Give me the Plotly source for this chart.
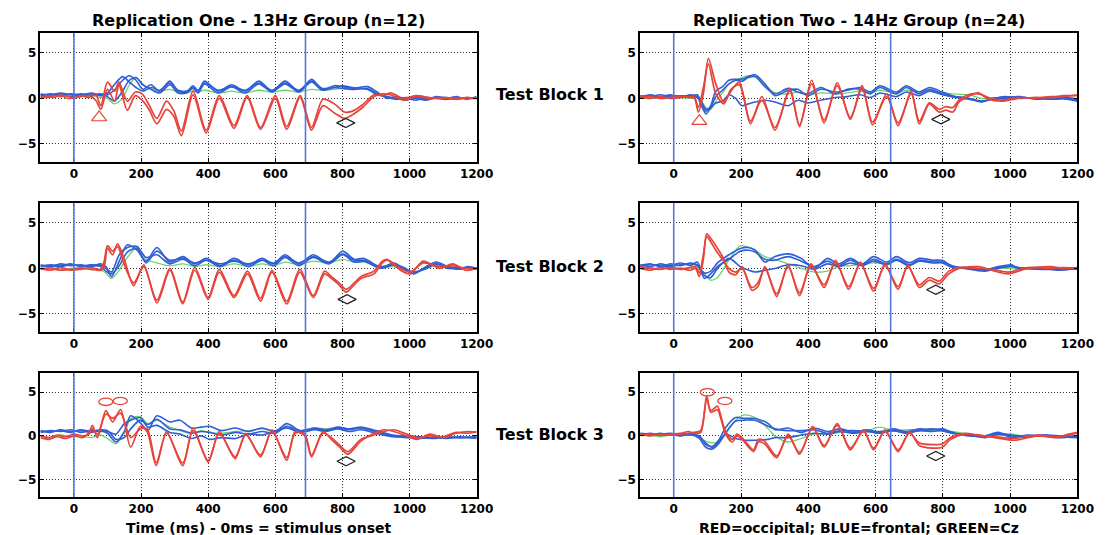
import plotly.graph_objects as go

# ---------------- axes / labels ----------------
X_TICKS = [0, 200, 400, 600, 800, 1000, 1200]
Y_TICKS = [-5, 0, 5]
X_RANGE = [-100, 1200]
Y_RANGE = [-7, 7.2]
STIM_ON = 0
STIM_OFF_L = 690
STIM_OFF_R = 645

COL_TITLES = ["Replication One - 13Hz Group (n=12)", "Replication Two - 14Hz Group (n=24)"]
ROW_LABELS = ["Test Block 1", "Test Block 2", "Test Block 3"]
XLABEL_L = "Time (ms) - 0ms = stimulus onset"
XLABEL_R = "RED=occipital; BLUE=frontal; GREEN=Cz"

# ---------------- Block 1, Replication One ----------------
T_1L_R = [-100,-80,-60,-40,-20,0,20,45,65,80,100,121,134,159,183,203,225,247,276,298,320,355,394,433,477,516,556,600,634,674,708,742,776,806,830,860,894,920,943,982,1020,1060,1100,1140,1170,1200]
R_1L_a = [0.0,0.3,0.1,0.4,0.0, 0.1,0.2,0.3,-0.2,-1.2, 1.0,-0.3,1.5,-1.3,0.3, -0.2,-1.3,-2.8,-1.2,-2.0, -4.1,0.4,-3.8,0.0,-3.3, 0.1,-3.4,0.0,-3.4,0.1, -3.5,-0.8,-1.6,-2.2,-1.8, -1.0,0.2,0.5,0.4,-0.2, 0.2,0.0,0.1,-0.1,0.1, 0.0]
R_1L_b = [0.2,0.1,0.3,0.2,0.3, 0.0,0.3,0.1,0.4,-0.8, 1.8,0.8,1.8,-0.3,0.7, 0.5,-0.8,-2.2,-0.3,-1.4, -3.6,0.8,-3.5,0.3,-3.0, 0.3,-3.2,0.3,-3.1,0.3, -3.2,-0.1,-0.6,-1.5,-1.4, -0.7,0.4,0.3,0.6,0.0, 0.3,0.1,0.0,0.1,0.0, 0.1]
T_1L_B = [-100,-70,-40,-10,20,50,80,100,120,145,165,185,205,230,255,286,310,335,355,370,389,430,470,510,551,590,629,670,708,740,776,800,830,874,900,934,960,990,1020,1050,1080,1110,1140,1170,1200]
B_1L_a = [0.3,0.5,0.3,0.5,0.4,0.5,0.3,0.4,0.9,2.0,2.5,2.0,1.0,1.5,0.8,1.9,0.8,0.7,1.4,0.8,1.9,0.8,1.5,0.8,1.9,0.8,1.9,0.8,2.1,1.0,1.4,1.3,1.1,1.3,0.8,0.0,0.2,-0.2,0.1,-0.1,0.2,0.0,0.2,-0.1,0.2]
B_1L_b = [0.5,0.3,0.5,0.2,0.5,0.3,0.5,0.2,-0.3,0.8,2.0,2.3,1.5,1.0,0.6,1.5,0.6,0.6,1.1,0.6,1.6,0.6,1.3,0.6,1.6,0.7,1.6,0.7,1.8,0.9,1.2,1.1,1.0,1.1,0.6,0.1,-0.1,0.0,-0.2,0.1,0.0,-0.1,0.1,0.0,0.0]
B_1L_c = [0.4,0.4,0.6,0.4,0.3,0.6,0.4,0.6,1.5,2.4,1.8,1.2,0.8,1.2,0.9,1.7,0.9,0.8,1.2,0.9,1.7,0.9,1.3,0.9,1.7,0.9,1.7,0.9,1.9,1.1,1.2,1.4,1.2,1.0,0.5,0.2,0.0,0.1,0.0,-0.2,0.1,0.1,-0.1,0.1,0.0]
G_1L = [0.2,0.2,0.3,0.2,0.2,0.3,0.1,0.0,-0.6,0.0,1.5,2.3,1.6,1.0,0.8,1.0,0.7,0.6,0.8,0.7,0.9,0.6,0.8,0.6,0.9,0.7,0.9,0.7,1.0,0.9,1.0,1.1,1.0,1.0,0.6,0.1,0.0,-0.1,0.0,-0.1,0.0,0.1,0.0,0.0,0.0]

# ---------------- Block 2, Replication One ----------------
T_2L_R = [-100,-70,-40,-10,20,50,80,90,100,115,130,150,178,208,247,286,324,360,400,433,477,517,556,590,634,673,713,747,767,790,811,835,855,894,919,933,973,1002,1041,1090,1129,1169,1200]
R_2L_a = [-0.1,0.0,-0.2,-0.1,0.0, -0.1,-0.2,0.2,2.2,1.5, 2.7,1.0,-1.9,0.4,-3.8, -0.2,-3.9,-0.2,-3.4,-0.4, -3.2,-0.6,-3.6,-0.4,-3.9, -0.4,-3.2,-0.6,-1.1,-1.8, -2.6,-1.8,-1.1,-0.6,0.6, 0.9,-0.2,-0.6,0.8,0.0, 0.5,-0.2,0.0]
R_2L_b = [0.0,-0.2,0.1,-0.2,-0.1, 0.1,-0.1,0.8,2.5,1.9, 2.4,0.4,-1.6,0.2,-3.5, 0.0,-3.7,0.1,-3.2,-0.1, -3.0,-0.3,-3.3,-0.2,-3.6, -0.1,-3.0,-0.3,-0.9,-1.6, -2.3,-1.6,-0.9,-0.3,0.8, 1.0,0.0,-0.4,0.6,0.2, 0.3,0.0,-0.1]
T_2L_B = [-100,-70,-40,-10,20,50,80,95,112,135,159,188,215,247,285,325,360,394,435,477,520,561,595,629,670,713,760,801,835,865,914,953,983,1012,1045,1080,1115,1149,1175,1200]
B_2L_a = [0.4,0.2,0.5,0.3,0.4, 0.2,0.5,0.2,-0.9,0.8, 2.6,2.0,0.8,2.3,0.7, 1.3,0.5,1.1,0.3,1.1, 0.4,1.1,0.5,1.5,0.5, 1.5,0.6,1.9,1.0,1.1, 0.1,0.6,0.0,-0.6,0.1, 0.7,0.2,0.0,0.2,0.0]
B_2L_b = [0.2,0.4,0.3,0.5,0.2, 0.4,0.3,0.0,-0.4,1.5, 2.3,2.4,1.2,1.5,0.5, 1.0,0.3,0.9,0.2,0.9, 0.2,0.9,0.3,1.2,0.3, 1.2,0.5,1.5,0.7,0.8, 0.0,0.4,0.1,-0.5,0.0, 0.5,0.0,0.1,0.0,0.1]
B_2L_c = [0.3,0.3,0.2,0.4,0.3, 0.3,0.2,-0.3,-0.6,0.3, 1.8,2.2,0.6,1.9,0.9, 1.1,0.6,0.9,0.5,0.8, 0.5,0.9,0.6,1.3,0.6, 1.3,0.7,1.6,0.9,0.9, 0.2,0.4,-0.1,-0.4,-0.1, 0.5,0.1,-0.1,0.1,0.0]
G_2L = [0.0,0.1,-0.1,0.0,0.1, 0.0,-0.2,-0.5,-1.1,-0.2, 1.2,2.3,1.0,0.6,0.3, 0.5,0.2,0.4,0.2,0.5, 0.2,0.5,0.3,0.7,0.4, 0.8,0.6,1.0,0.7,0.7, 0.1,0.2,-0.1,-0.5,-0.1, 0.3,0.0,0.0,0.1,0.0]

# ---------------- Block 3, Replication One ----------------
T_3L_R = [-100,-75,-50,-25,0,25,45,55,70,95,115,139,169,198,218,245,276,324,355,400,433,480,512,556,590,634,659,688,708,742,767,790,816,855,894,924,953,992,1022,1061,1100,1139,1175,1200]
R_3L_a = [-0.2,-0.4,-0.1,-0.3,0.0, -0.2,0.4,1.2,-0.2,2.9, 1.6,3.0,-1.3,1.1,0.5, -3.4,0.5,-3.4,0.9,-3.0, 0.5,-2.6,0.3,-2.4,0.7, -2.8,0.5,0.0,-2.4,0.5, -0.4,-1.2,-2.1,-0.6,0.3, 0.7,0.5,0.0,-0.4,0.2, -0.2,0.3,0.5,0.4]
R_3L_b = [0.0,-0.2,0.1,-0.1,0.2, 0.0,0.2,0.8,0.2,2.5, 2.0,2.6,-0.2,0.8,0.8, -3.1,0.3,-3.1,0.6,-2.8, 0.3,-2.4,0.1,-2.2,0.5, -2.5,0.3,0.2,-2.2,0.3, -0.2,-1.0,-1.8,-0.4,0.1, 0.5,0.7,0.2,-0.2,0.0, -0.1,0.4,0.3,0.5]
T_3L_B = [-100,-70,-40,-10,20,50,80,100,125,150,169,198,220,247,286,316,350,380,404,440,482,520,561,600,634,675,718,750,786,820,855,900,950,990,1030,1070,1110,1150,1200]
B_3L_a = [0.6,0.4,0.7,0.5,0.6, 0.4,0.6,0.3,-0.7,0.5, 2.3,1.5,0.6,2.3,1.6, 1.8,0.9,1.0,1.1,0.6, 0.9,0.5,0.9,0.5,1.4, 0.6,0.9,0.7,0.9,0.7, 0.9,0.5,0.0,-0.2,-0.2, -0.3,-0.1,-0.2,-0.2]
B_3L_b = [0.4,0.6,0.5,0.7,0.4, 0.6,0.5,0.5,0.2,1.4, 1.8,2.1,1.0,1.2,0.4, 0.2,-0.3,0.0,-0.4,-0.2, -0.3,0.2,0.1,0.6,0.9, 0.4,0.7,0.5,0.8,0.5, 0.7,0.3,-0.1,-0.1,-0.3, -0.2,-0.3,-0.1,-0.3]
B_3L_c = [0.5,0.5,0.6,0.4,0.7, 0.5,0.7,0.6,-0.4,-0.2, 0.8,1.8,1.3,1.9,0.8, 0.7,0.3,0.5,0.4,0.1, 0.4,0.2,0.5,0.3,1.1, 0.5,0.8,0.6,1.0,0.8, 1.0,0.6,0.1,0.0,-0.1, -0.2,-0.2,-0.2,-0.1]
G_3L = [0.0,-0.2,0.1,-0.1,0.0, -0.2,0.1,-0.3,-0.9,0.3, 2.0,2.2,1.4,1.8,1.0, 0.6,0.3,0.6,0.4,0.3, 0.5,0.6,0.8,0.5,0.9, 0.6,0.9,0.8,1.0,0.8, 0.9,0.4,0.0,-0.1,-0.1, -0.2,-0.1,-0.2,-0.1]

# ---------------- Block 1, Replication Two ----------------
T_1R_R = [-100,-70,-40,-10,20,50,62,73,88,103,125,149,170,195,228,262,301,345,374,410,447,486,525,560,591,633,667,706,730,760,789,809,830,848,875,906,936,975,1023,1070,1121,1160,1200]
R_1R_a = [0.1,0.2,0.0,0.1,0.2, 0.1,0.0,-1.5,0.5,4.4, 1.6,-0.4,0.8,1.8,-2.8, 0.2,-3.5,1.1,-3.1,2.0, -2.7,1.7,-2.3,1.4,-2.9, 0.5,-3.0,0.8,-2.8,-0.6, -1.5,-1.3,-1.5,-0.4,0.2, 0.6,-0.1,-0.3,0.0,0.1, 0.1,0.3,0.3]
R_1R_b = [0.2,0.0,0.2,0.0,0.1, 0.2,0.1,-1.0,1.2,3.8, 0.5,-0.6,1.0,1.5,-2.5, -0.2,-3.2,0.8,-2.9,1.6, -2.4,1.4,-2.1,1.1,-2.6, 0.2,-2.7,0.5,-2.5,-0.5, -1.2,-0.9,-1.0,-0.2,0.4, 0.5,0.1,-0.2,0.1,0.0, 0.2,0.2,0.4]
T_1R_B = [-100,-70,-40,-10,20,50,70,80,96,110,125,145,164,184,203,222,242,271,301,340,369,398,437,481,516,555,584,613,662,691,730,760,799,828,877,916,945,984,1030,1080,1130,1170,1200]
B_1R_a = [0.3,0.2,0.4,0.2,0.3, 0.2,0.4,-0.3,-1.4,-0.8, 0.8,1.3,2.0,2.1,2.1, 2.4,2.6,1.6,0.3,0.9, 1.0,0.3,1.0,0.7,0.9, 1.2,0.7,1.4,0.7,1.4, 0.7,1.2,0.7,0.3,0.0, -0.4,0.0,0.1,0.2,-0.1, 0.1,-0.1,-0.3]
B_1R_b = [0.1,0.4,0.2,0.4,0.1, 0.4,0.2,-0.6,-1.7,-1.0, 0.2,0.9,1.6,2.0,1.9, 2.3,2.4,1.3,0.5,1.1, 0.7,0.5,1.2,0.5,1.0, 1.0,0.5,1.2,0.5,1.2, 0.5,1.0,0.5,0.2,-0.1, -0.3,-0.1,0.2,0.0,0.1, -0.1,0.1,-0.1]
B_1R_c = [0.2,0.3,0.1,0.3,0.2, 0.3,0.1,-0.2,-1.2,-1.0, -0.5,-0.3,0.4,0.0,-0.8, -0.6,-0.4,-0.2,-0.4,-0.8, -0.2,-0.5,-0.2,0.1,0.2, 0.4,0.1,0.6,0.2,0.7, 0.3,0.8,0.4,0.2,0.0, -0.3,-0.1,0.0,0.1,0.0, -0.1,0.0,-0.2]
G_1R = [0.1,0.0,0.1,0.0,0.1, 0.0,0.1,-0.2,-1.0,-1.2, -0.3,0.6,1.6,2.0,2.3, 2.5,2.4,1.5,0.6,0.5, 0.7,0.4,0.6,0.5,0.6, 0.8,0.6,0.9,0.6,0.9, 0.7,0.8,0.6,0.5,0.4, 0.0,0.0,-0.1,0.0,0.0, 0.1,0.0,0.0]

# ---------------- Block 2, Replication Two ----------------
T_2R_R = [-100,-70,-40,-10,20,50,65,76,88,98,112,125,145,164,184,203,232,250,271,306,340,374,408,447,481,520,555,594,628,667,696,730,760,789,818,848,906,945,994,1053,1121,1160,1200]
R_2R_a = [0.0,-0.2,0.1,-0.1,0.0, -0.2,0.0,-0.9,1.0,3.8, 3.2,2.5,1.3,-0.4,-0.7, 0.2,-2.4,-2.0,0.2,-3.1, 0.4,-3.0,0.5,-2.1,0.9, -2.3,0.7,-2.5,0.5,-2.3, 0.4,-2.1,-1.3,-1.7,-0.6, 0.0,0.2,-0.2,-0.6,0.0, 0.2,0.0,0.1]
R_2R_b = [0.2,0.0,-0.1,0.1,-0.1, 0.1,0.2,-0.5,1.5,3.5, 2.8,2.0,1.0,0.0,-0.4, 0.0,-2.1,-1.6,0.0,-2.8, 0.2,-2.7,0.3,-1.8,0.7, -2.0,0.5,-2.2,0.3,-2.0, 0.2,-1.8,-1.0,-1.4,-0.3, 0.1,0.0,-0.1,-0.4,0.1, 0.0,0.1,0.0]
T_2R_B = [-100,-70,-40,-10,20,50,70,91,110,130,164,198,223,242,271,301,340,379,418,457,490,525,560,594,633,662,700,730,770,799,828,877,926,965,1004,1023,1080,1140,1200]
B_2R_a = [0.3,0.5,0.2,0.5,0.3, 0.6,0.4,-0.5,-0.3,0.6, 1.5,2.2,2.3,2.0,0.7, 1.3,1.6,1.1,0.0,1.1, 0.5,1.1,0.5,1.3,0.7, 1.3,0.6,1.1,0.9,0.9, 0.2,0.0,-0.2,0.2,0.4, 0.0,0.1,-0.2,0.0]
B_2R_b = [0.4,0.2,0.5,0.3,0.6, 0.3,0.7,-1.1,-0.6,0.2, 1.0,1.9,2.0,1.8,1.0, 0.9,1.3,0.8,0.2,0.8, 0.3,0.9,0.4,1.0,0.5, 1.0,0.4,0.9,0.7,0.7, 0.3,-0.1,-0.3,0.0,0.3, 0.1,-0.1,-0.1,0.1]
B_2R_c = [0.2,0.4,0.3,0.2,0.4, 0.5,0.3,-0.8,-1.0,0.0, 1.1,0.2,-0.2,-0.4,-0.2, 0.0,0.4,0.3,-0.1,0.5, 0.2,0.6,0.3,0.8,0.4, 0.9,0.3,0.8,0.6,0.6, 0.1,0.1,-0.1,0.1,0.2, 0.1,0.0,0.0,-0.1]
G_2R = [0.0,0.1,-0.1,0.1,0.0, 0.1,0.0,-0.6,-1.3,-1.0, 0.9,2.5,2.3,2.0,1.3, 1.0,0.5,0.0,-0.4,-0.3, 0.2,0.3,0.5,0.6,0.6, 0.9,0.7,0.9,0.7,0.7, 0.2,0.1,-0.1,0.0,0.0, -0.1,0.0,0.0,0.0]

# ---------------- Block 3, Replication Two ----------------
T_3R_R = [-100,-70,-40,-10,20,45,60,80,98,110,130,140,154,174,188,203,237,252,270,306,340,374,413,447,486,525,564,594,628,667,701,730,770,799,823,867,910,955,1014,1082,1140,1175,1200]
R_3R_a = [0.1,0.2,0.1,0.2,0.3, 0.5,0.3,0.4,4.6,2.7, 3.0,2.0,0.2,-0.7,0.0, -0.4,-1.8,-0.7,-0.9,-2.5, 0.2,-2.1,1.1,-1.3,1.4, -1.6,0.7,-1.6,0.7,-1.8, 0.5,-1.1,-1.4,-1.3,-0.4, 0.2,0.1,-0.2,-0.5,0.0, -0.2,0.1,0.35]
R_3R_b = [0.2,0.0,0.2,0.1,0.2, 0.3,0.4,0.6,4.2,2.9, 3.4,2.3,0.5,-0.4,0.2, -0.2,-1.6,-0.4,-0.6,-2.3, 0.0,-1.9,0.9,-1.1,1.2, -1.4,0.5,-1.4,0.5,-1.6, 0.3,-0.8,-1.0,-0.9,-0.2, 0.3,0.0,-0.1,-0.3,0.1, -0.1,0.2,0.4]
T_3R_B = [-100,-70,-40,-10,20,50,76,95,115,135,155,184,210,242,281,301,340,379,418,457,496,535,574,613,652,691,730,770,799,828,877,926,965,1004,1050,1100,1150,1200]
B_3R_a = [0.2,0.1,0.3,0.1,0.2, 0.1,0.0,-1.0,-1.2,-0.4, 1.0,2.1,2.0,2.0,1.4, 0.7,0.9,0.4,0.9,0.5, 0.8,0.4,0.7,0.4,0.8, 0.5,0.8,0.7,0.8,0.4, 0.0,0.0,0.4,-0.2,0.1, 0.0,-0.2,0.0]
B_3R_b = [0.1,0.3,0.1,0.2,0.0, 0.2,-0.3,-1.3,-1.5,-0.8, 0.4,1.7,1.8,1.8,1.1, 0.8,0.6,0.6,0.7,0.3, 0.6,0.6,0.5,0.5,0.6, 0.4,0.6,0.8,0.6,0.3, 0.1,-0.2,0.2,0.0,-0.1, 0.1,-0.1,-0.2]
B_3R_c = [0.3,0.2,0.2,0.3,0.1, 0.3,-0.1,-0.8,-1.3,-0.6, 0.2,-0.3,-0.5,-0.5,-0.4, -0.2,-0.2,0.1,0.3,0.2, 0.5,0.3,0.5,0.3,0.6, 0.3,0.6,0.5,0.6,0.3, 0.1,0.0,0.3,0.1,-0.1, 0.1,0.0,-0.1]
G_3R = [0.0,0.1,-0.1,0.1,0.0, 0.1,-0.2,-0.6,-0.8,-0.7, 0.3,1.8,2.4,2.1,0.8, 0.0,-0.7,-0.3,0.2,0.2, 0.4,0.5,0.6,1.0,0.6, 0.7,0.7,0.6,0.7,0.5, 0.2,0.0,0.0,0.2,-0.1, 0.0,0.0,0.0]

# ---------------- peak markers ----------------
TRI_X = {1: [75], 2: [76]}
TRI_Y = {1: [-2.1], 2: [-2.5]}
DIA_X = {1: [810], 3: [814], 5: [811], 2: [794], 4: [779], 6: [779]}
DIA_Y = {1: [-2.7], 3: [-3.4], 5: [-2.9], 2: [-2.3], 4: [-2.35], 6: [-2.3]}
ELL_X = {5: [95, 138], 6: [100, 152]}
ELL_Y = {5: [3.9, 4.0], 6: [5.0, 4.0]}

# ---------------- assembly ----------------
PANELS = [
    (T_1L_R, [R_1L_a, R_1L_b], T_1L_B, [B_1L_a, B_1L_b, B_1L_c], [G_1L], STIM_OFF_L),
    (T_1R_R, [R_1R_a, R_1R_b], T_1R_B, [B_1R_a, B_1R_b, B_1R_c], [G_1R], STIM_OFF_R),
    (T_2L_R, [R_2L_a, R_2L_b], T_2L_B, [B_2L_a, B_2L_b, B_2L_c], [G_2L], STIM_OFF_L),
    (T_2R_R, [R_2R_a, R_2R_b], T_2R_B, [B_2R_a, B_2R_b, B_2R_c], [G_2R], STIM_OFF_R),
    (T_3L_R, [R_3L_a, R_3L_b], T_3L_B, [B_3L_a, B_3L_b, B_3L_c], [G_3L], STIM_OFF_L),
    (T_3R_R, [R_3R_a, R_3R_b], T_3R_B, [B_3R_a, B_3R_b, B_3R_c], [G_3R], STIM_OFF_R),
]

RED = "#e6443a"
BLUE = "#2f5ed6"
GREEN = "#6ad46a"
VLINE = "#5278e0"
FONT = "DejaVu Sans"

X_DOM = [[0.0367, 0.4329], [0.5814, 0.9785]]
Y_DOM = [[0.6972, 0.9383], [0.3794, 0.6206], [0.0710, 0.3028]]

fig = go.Figure()
shapes = []
layout = {}

for i, (tr, reds, tb, blues, greens, stim_off) in enumerate(PANELS):
    n = i + 1
    r, c = divmod(i, 2)
    key = "" if n == 1 else str(n)
    xa, ya = "x" + key, "y" + key
    for s in reds:
        assert len(s) == len(tr), (n, len(s), len(tr))
    for s in blues + greens:
        assert len(s) == len(tb), (n, len(s), len(tb))

    def line(x, y, col, w):
        fig.add_trace(go.Scatter(x=x, y=y, xaxis=xa, yaxis=ya, mode="lines",
                                 line=dict(color=col, width=w, shape="spline", smoothing=0.8),
                                 showlegend=False, hoverinfo="skip"))
    for g in greens:
        line(tb, g, GREEN, 1.3)
    for b in blues:
        line(tb, b, BLUE, 1.6)
    for rr in reds:
        line(tr, rr, RED, 1.7)

    if n in TRI_X:
        fig.add_trace(go.Scatter(x=TRI_X[n], y=TRI_Y[n], xaxis=xa, yaxis=ya, mode="markers",
                                 marker=dict(symbol="triangle-up-open", size=13, color=RED,
                                             line=dict(width=1.2, color=RED)),
                                 showlegend=False, hoverinfo="skip"))
    if n in DIA_X:
        fig.add_trace(go.Scatter(x=DIA_X[n], y=DIA_Y[n], xaxis=xa, yaxis=ya, mode="markers",
                                 marker=dict(symbol="diamond-wide-open", size=13, color="#222222",
                                             line=dict(width=1.3, color="#222222")),
                                 showlegend=False, hoverinfo="skip"))
    if n in ELL_X:
        for ex, ey in zip(ELL_X[n], ELL_Y[n]):
            shapes.append(dict(type="circle", xref=xa, yref=ya, x0=ex - 21, x1=ex + 21,
                               y0=ey - 0.42, y1=ey + 0.42, line=dict(color=RED, width=1.3),
                               layer="above"))

    for xv in (STIM_ON, stim_off):
        shapes.append(dict(type="line", xref=xa, yref=ya + " domain", x0=xv, x1=xv, y0=0, y1=1,
                           line=dict(color=VLINE, width=1.6), layer="above"))

    common = dict(showline=True, linecolor="black", linewidth=1.5, mirror="ticks",
                  ticks="inside", ticklen=4, tickcolor="black",
                  showgrid=True, gridcolor="#333333", gridwidth=1, griddash="1px,2px",
                  zeroline=False,
                  tickfont=dict(family=FONT, size=12, color="black", weight="bold"))
    layout["xaxis" + key] = dict(domain=X_DOM[c], anchor=ya, range=X_RANGE, tickvals=X_TICKS, **common)
    layout["yaxis" + key] = dict(domain=Y_DOM[r], anchor=xa, range=Y_RANGE, tickvals=Y_TICKS, **common)

ann_font = dict(family=FONT, size=16, color="black", weight="bold")
bot_font = dict(family=FONT, size=14, color="black", weight="bold")
annotations = [
    dict(text=COL_TITLES[0], x=sum(X_DOM[0]) / 2, y=1 - 20 / 535, xref="paper", yref="paper",
         showarrow=False, font=ann_font, xanchor="center", yanchor="middle"),
    dict(text=COL_TITLES[1], x=sum(X_DOM[1]) / 2, y=1 - 20 / 535, xref="paper", yref="paper",
         showarrow=False, font=ann_font, xanchor="center", yanchor="middle"),
    dict(text=XLABEL_L, x=sum(X_DOM[0]) / 2, y=0.0, xref="paper", yref="paper", yshift=-2,
         showarrow=False, font=bot_font, xanchor="center", yanchor="bottom", borderpad=0),
    dict(text=XLABEL_R, x=sum(X_DOM[1]) / 2, y=0.0, xref="paper", yref="paper", yshift=-2,
         showarrow=False, font=bot_font, xanchor="center", yanchor="bottom", borderpad=0),
]
for lbl, ypx in zip(ROW_LABELS, [94, 266, 434]):
    annotations.append(dict(text=lbl, x=558 / 1118, y=1 - ypx / 535, xref="paper", yref="paper",
                            showarrow=False, font=ann_font, xanchor="center", yanchor="middle"))

fig.update_layout(width=1118, height=535, margin=dict(l=0, r=0, t=0, b=0),
                  paper_bgcolor="white", plot_bgcolor="white", showlegend=False,
                  shapes=shapes, annotations=annotations, **layout)

fig.write_html("out.html")
